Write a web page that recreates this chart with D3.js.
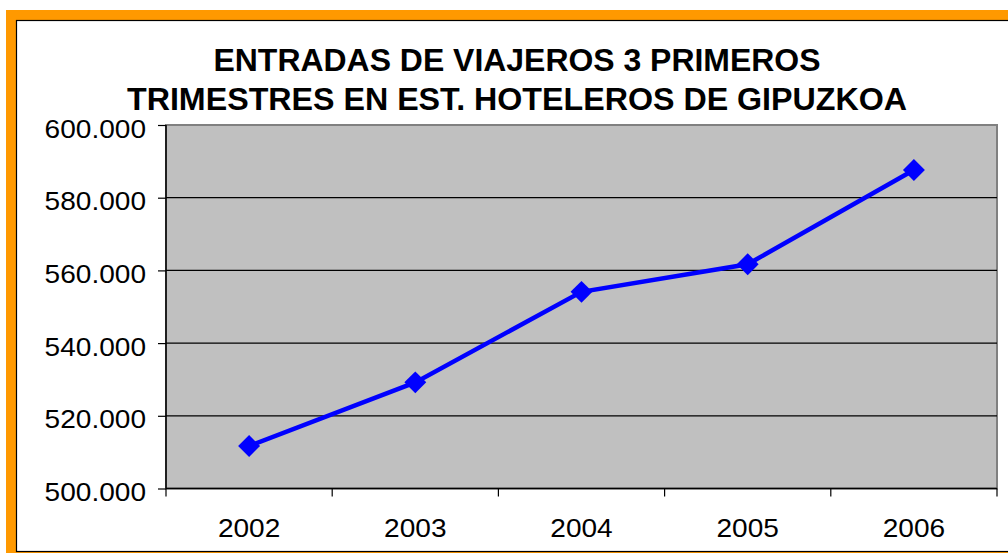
<!DOCTYPE html>
<html>
<head>
<meta charset="utf-8">
<script src="https://cdn.jsdelivr.net/npm/d3@7"></script>
<style>
  html, body { margin: 0; padding: 0; background: #fff; }
  svg { display: block; font-family: "Liberation Sans", Arial, sans-serif; }
</style>
</head>
<body>
<script>
// datos
const years = ["2002", "2003", "2004", "2005", "2006"];
const entradas = [511700, 529200, 554100, 561700, 587600];
const yTicks = [500000, 520000, 540000, 560000, 580000, 600000];
const titleLines = ["ENTRADAS DE VIAJEROS 3 PRIMEROS", "TRIMESTRES EN EST. HOTELEROS DE GIPUZKOA"];

const W = 1008, H = 553;
const plot = { left: 166, top: 125, right: 997, bottom: 488.5 };
const stretch = 1.1; // el original está algo ensanchado en horizontal

const svg = d3.select("body").append("svg")
    .attr("width", W)
    .attr("height", H);

// marco naranja + borde negro
svg.append("rect").attr("x", 6).attr("y", 10).attr("width", W).attr("height", H).attr("fill", "#ff9900");
svg.append("rect").attr("x", 16.5).attr("y", 20.5).attr("width", W).attr("height", 531)
    .attr("fill", "#fff").attr("stroke", "#000").attr("stroke-width", 1.2);

const x = d3.scaleBand().domain(years).range([plot.left, plot.right]);
const y = d3.scaleLinear().domain([500000, 600000]).range([plot.bottom, plot.top]);

// área del gráfico
svg.append("rect")
    .attr("x", plot.left).attr("y", plot.top)
    .attr("width", plot.right - plot.left).attr("height", plot.bottom - plot.top)
    .attr("fill", "#c0c0c0").attr("stroke", "#808080").attr("stroke-width", 2);

// líneas de división
svg.selectAll(".grid").data(yTicks.slice(1, -1)).enter().append("line")
    .attr("class", "grid")
    .attr("x1", plot.left).attr("x2", plot.right)
    .attr("y1", d => y(d)).attr("y2", d => y(d))
    .attr("stroke", "#000").attr("stroke-width", 1.2);

function widen(sel) {
  sel.each(function () {
    const w = this.getComputedTextLength();
    d3.select(this).attr("textLength", w * stretch).attr("lengthAdjust", "spacingAndGlyphs");
  });
}

// eje Y
const yAxis = svg.append("g").attr("transform", `translate(${plot.left},0)`)
    .call(d3.axisLeft(y).tickValues(yTicks).tickSize(8).tickPadding(12)
        .tickFormat(d => d3.format(",")(d).replace(/,/g, ".")));
yAxis.select(".domain").attr("stroke-width", 1.5).attr("d", `M0,${plot.top}V${plot.bottom}`);
yAxis.selectAll(".tick line").attr("stroke-width", 1.2);
yAxis.selectAll("text")
    .attr("font-size", 25.5).attr("font-family", "Liberation Sans, Arial, sans-serif")
    .attr("fill", "#000").attr("dy", 12).attr("x", -20)
    .call(widen);

// eje X
const xAxis = svg.append("g").attr("transform", `translate(0,${plot.bottom})`)
    .call(d3.axisBottom(x).tickSize(0).tickPadding(0));
xAxis.select(".domain").attr("stroke-width", 1.5).attr("d", `M${plot.left},0H${plot.right}`);
xAxis.selectAll("text")
    .attr("font-size", 25.5).attr("font-family", "Liberation Sans, Arial, sans-serif")
    .attr("fill", "#000").attr("y", 48.5).attr("dy", 0)
    .call(widen);
// marcas entre categorías
const bounds = years.map(d => x(d)).concat([x(years[years.length - 1]) + x.bandwidth()]);
xAxis.selectAll(".sep").data(bounds).enter().append("line")
    .attr("class", "sep")
    .attr("x1", d => d).attr("x2", d => d)
    .attr("y1", 0).attr("y2", 8)
    .attr("stroke", "#000").attr("stroke-width", 1.2);

// serie
const cx = d => x(d) + x.bandwidth() / 2;
const line = d3.line().x((d, i) => cx(years[i])).y(d => y(d));
svg.append("path").datum(entradas)
    .attr("d", line)
    .attr("fill", "none").attr("stroke", "#0000ff").attr("stroke-width", 4.5);

const diamond = d3.symbol().type(d3.symbolSquare).size(240);
svg.selectAll(".marker").data(entradas).enter().append("path")
    .attr("class", "marker")
    .attr("d", diamond)
    .attr("transform", (d, i) => `translate(${cx(years[i])},${y(d)}) rotate(45)`)
    .attr("fill", "#0000ff");

// título
const titleWidths = [607, 780];
svg.selectAll(".title").data(titleLines).enter().append("text")
    .attr("class", "title")
    .attr("x", 517)
    .attr("y", (d, i) => 71 + i * 38.5)
    .attr("text-anchor", "middle")
    .attr("font-size", 31).attr("font-weight", "bold").attr("fill", "#000")
    .attr("textLength", (d, i) => titleWidths[i]).attr("lengthAdjust", "spacingAndGlyphs")
    .text(d => d);
</script>
</body>
</html>
